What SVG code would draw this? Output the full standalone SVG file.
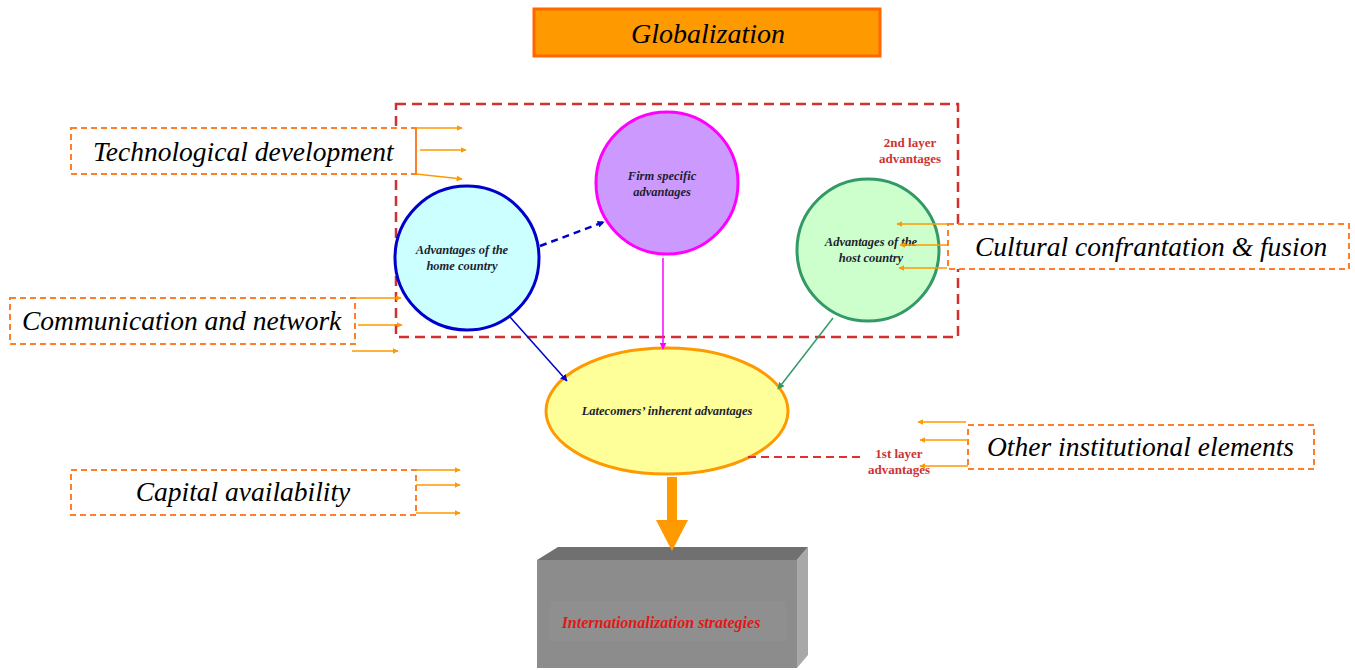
<svg xmlns="http://www.w3.org/2000/svg" width="1355" height="670" viewBox="0 0 1355 670">
  <defs>
    <style>
      .big { font-family: "Liberation Serif", "Times New Roman", serif; font-style: italic; font-size: 27.5px; fill: #000; }
      .small { font-family: "Liberation Serif", "Times New Roman", serif; font-style: italic; font-weight: bold; font-size: 12.5px; fill: #1E1E2E; text-anchor: middle; }
      .layer { font-family: "Liberation Serif", "Times New Roman", serif; font-weight: bold; font-size: 13px; fill: #CC3333; text-anchor: middle; }
      .factor { fill: #fff; stroke: #FF7F27; stroke-width: 2; stroke-dasharray: 6 4; }
      .feed { stroke: #FF9900; stroke-width: 1.5; fill: none; marker-end: url(#ora); }
    </style>
    <marker id="ora" viewBox="0 0 10 10" refX="9" refY="5" markerWidth="6" markerHeight="6" orient="auto" markerUnits="userSpaceOnUse">
      <path d="M0,0 L10,5 L0,10 z" fill="#FF9900"/>
    </marker>
    <marker id="blu" viewBox="0 0 10 10" refX="9" refY="5" markerWidth="7" markerHeight="7" orient="auto" markerUnits="userSpaceOnUse">
      <path d="M0,0 L10,5 L0,10 z" fill="#0000CC"/>
    </marker>
    <marker id="mag" viewBox="0 0 10 10" refX="9" refY="5" markerWidth="7" markerHeight="7" orient="auto" markerUnits="userSpaceOnUse">
      <path d="M0,0 L10,5 L0,10 z" fill="#FF00FF"/>
    </marker>
    <marker id="grn" viewBox="0 0 10 10" refX="9" refY="5" markerWidth="7" markerHeight="7" orient="auto" markerUnits="userSpaceOnUse">
      <path d="M0,0 L10,5 L0,10 z" fill="#339966"/>
    </marker>
  </defs>

  <rect width="1355" height="670" fill="#fff"/>

  <!-- top banner -->
  <g id="globalization">
    <rect x="534" y="9" width="346" height="47" fill="#FF9900" stroke="#FF6600" stroke-width="3"/>
    <text x="708" y="43" class="big" style="font-size:28px" text-anchor="middle">Globalization</text>
  </g>

  <!-- second layer frame -->
  <g id="second-layer">
    <rect x="396" y="104" width="562" height="233" fill="none" stroke="#D03030" stroke-width="2.5" stroke-dasharray="10 6"/>
    <text x="910" y="147" class="layer">2nd layer</text>
    <text x="910" y="163" class="layer">advantages</text>
  </g>

  <!-- external factor boxes -->
  <g id="tech">
    <rect x="71" y="128" width="345" height="46" class="factor"/>
    <text x="93" y="161" class="big">Technological development</text>
  </g>
  <g id="communication">
    <rect x="10" y="298" width="345" height="46" class="factor"/>
    <text x="22" y="330" class="big">Communication and network</text>
  </g>
  <g id="capital">
    <rect x="71" y="470" width="345" height="45" class="factor"/>
    <text x="243" y="501" class="big" text-anchor="middle">Capital availability</text>
  </g>
  <g id="cultural">
    <rect x="948" y="224" width="401" height="45" class="factor"/>
    <text x="975" y="256" class="big">Cultural confrantation &amp; fusion</text>
  </g>
  <g id="institutional">
    <rect x="968" y="425" width="346" height="44" class="factor"/>
    <text x="987" y="456" class="big">Other institutional elements</text>
  </g>

  <!-- advantage circles -->
  <g id="home">
    <circle cx="467" cy="258" r="72" fill="#CCFFFF" stroke="#0000CC" stroke-width="3"/>
    <text x="462" y="254" class="small">Advantages of the</text>
    <text x="462" y="270" class="small">home country</text>
  </g>
  <g id="firm">
    <circle cx="667" cy="183" r="71" fill="#CC99FF" stroke="#FF00FF" stroke-width="3"/>
    <text x="662" y="180" class="small">Firm specific</text>
    <text x="662" y="196" class="small">advantages</text>
  </g>
  <g id="host">
    <circle cx="868" cy="250" r="71" fill="#CCFFCC" stroke="#339966" stroke-width="3"/>
    <text x="871" y="246" class="small">Advantages of the</text>
    <text x="871" y="262" class="small">host country</text>
  </g>
  <g id="latecomers">
    <ellipse cx="667" cy="411" rx="121" ry="63" fill="#FFFF99" stroke="#FF9900" stroke-width="3"/>
    <text x="667" y="415" class="small">Latecomers’ inherent advantages</text>
  </g>

  <!-- first layer label -->
  <g id="first-layer">
    <text x="899" y="458" class="layer">1st layer</text>
    <text x="899" y="474" class="layer">advantages</text>
  </g>

  <!-- strategy block -->
  <g id="strategies">
    <polygon points="537,560 558,547 808,547 797,560" fill="#707070"/>
    <polygon points="797,560 808,547 808,655 797,668" fill="#A8A8A8"/>
    <rect x="537" y="560" width="260" height="108" fill="#8C8C8C"/>
    <rect x="550" y="601" width="236" height="40" fill="#8F8F8F"/>
    <text x="661" y="628" class="small" style="font-size:16px; fill:#E01818">Internationalization strategies</text>
  </g>

  <!-- connectors -->
  <g id="connectors">
    <line x1="540" y1="246" x2="604" y2="222" stroke="#0000CC" stroke-width="2.5" stroke-dasharray="7 5" marker-end="url(#blu)"/>
    <line x1="663" y1="258" x2="663" y2="349" stroke="#FF00FF" stroke-width="1.5" marker-end="url(#mag)"/>
    <line x1="510" y1="317" x2="567" y2="381" stroke="#0000CC" stroke-width="1.5" marker-end="url(#blu)"/>
    <line x1="833" y1="318" x2="778" y2="389" stroke="#339966" stroke-width="1.5" marker-end="url(#grn)"/>
    <line x1="748" y1="457" x2="862" y2="457" stroke="#E03030" stroke-width="2" stroke-dasharray="8 5"/>

    <!-- technological development feeds -->
    <line x1="416" y1="128" x2="416" y2="174" stroke="#FF7F27" stroke-width="2" stroke-dasharray="6 4"/>
    <line x1="416" y1="128" x2="462" y2="128" class="feed"/>
    <line x1="420" y1="150" x2="466" y2="150" class="feed"/>
    <line x1="416" y1="174" x2="462" y2="179" class="feed"/>
    <!-- communication feeds -->
    <line x1="355" y1="298" x2="401" y2="298" class="feed"/>
    <line x1="358" y1="325" x2="402" y2="325" class="feed"/>
    <line x1="352" y1="351" x2="398" y2="351" class="feed"/>
    <!-- capital feeds -->
    <line x1="416" y1="470" x2="460" y2="470" class="feed"/>
    <line x1="416" y1="485" x2="460" y2="485" class="feed"/>
    <line x1="416" y1="513" x2="460" y2="513" class="feed"/>
    <!-- cultural feeds -->
    <line x1="947" y1="224" x2="897" y2="224" class="feed"/>
    <line x1="947" y1="245" x2="900" y2="245" class="feed"/>
    <line x1="947" y1="268" x2="899" y2="268" class="feed"/>
    <!-- institutional feeds -->
    <line x1="966" y1="422" x2="918" y2="422" class="feed"/>
    <line x1="968" y1="440" x2="920" y2="440" class="feed"/>
    <line x1="968" y1="466" x2="920" y2="466" class="feed"/>

    <!-- outcome arrow -->
    <rect x="667" y="477" width="10" height="44" fill="#FF9900"/>
    <polygon points="656,520 688,520 672,551" fill="#FF9900"/>
  </g>
</svg>
